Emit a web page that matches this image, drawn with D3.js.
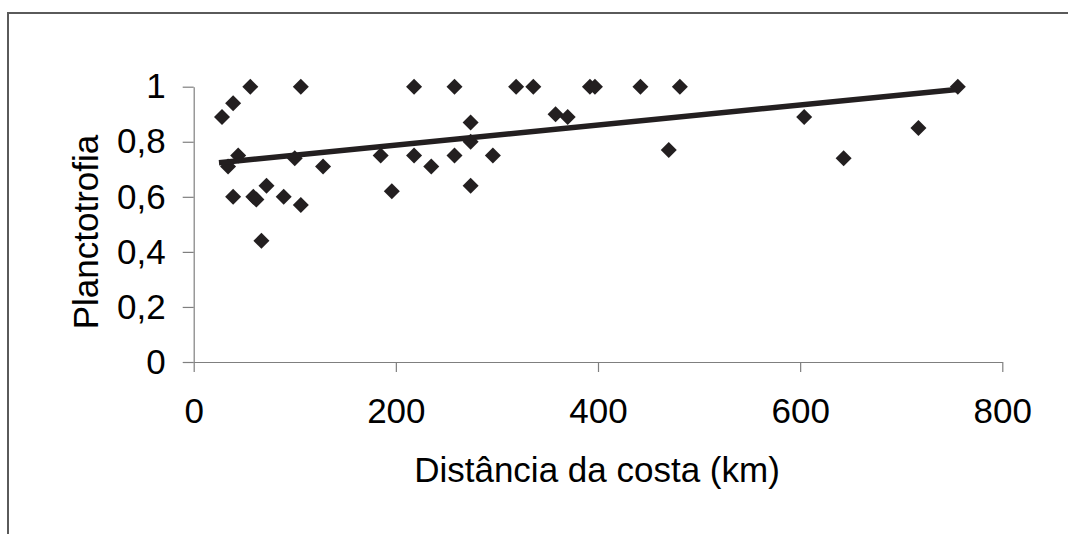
<!DOCTYPE html>
<html>
<head>
<meta charset="utf-8">
<script src="https://cdn.jsdelivr.net/npm/d3@7"></script>
<style>
  body { margin: 0; background: #fff; }
  text { font-family: "Liberation Sans", Arial, sans-serif; fill: #000; }
</style>
</head>
<body>
<div id="chart"></div>
<script>
// distância da costa (km) e planctotrofia
const distancia = [28, 34, 39, 39, 44, 56, 59, 62, 67, 72, 89, 100, 106, 106, 128, 185, 196, 218, 218, 235,
  258, 258, 274, 274, 274, 296, 319, 336, 358, 370, 392, 397, 442, 470, 481, 604, 643, 717, 756];
const planctotrofia = [0.89, 0.71, 0.94, 0.60, 0.75, 1, 0.60, 0.59, 0.44, 0.64, 0.60, 0.74, 1, 0.57, 0.71, 0.75, 0.62, 1, 0.75, 0.71,
  1, 0.75, 0.87, 0.80, 0.64, 0.75, 1, 1, 0.90, 0.89, 1, 1, 1, 0.77, 1, 0.89, 0.74, 0.85, 1];
// linha de tendência
const tendX = [25, 755];
const tendY = [0.724, 0.99];
const xTicks = [0, 200, 400, 600, 800];
const yTicks = [0, 0.2, 0.4, 0.6, 0.8, 1];

const width = 1068, height = 534;
const fontSize = '35px';
const svg = d3.select('#chart').append('svg')
  .attr('width', width).attr('height', height);

// moldura
svg.append('rect')
  .attr('x', 8).attr('y', 13)
  .attr('width', 1200).attr('height', 600)
  .attr('fill', 'none').attr('stroke', '#5a5a5a').attr('stroke-width', 2);

const x = d3.scaleLinear().domain([0, 800]).range([193.7, 1002.3]);
const y = d3.scaleLinear().domain([0, 1]).range([362, 86.7]);

const fmt = d => String(d).replace('.', ',');

const xAxis = svg.append('g')
  .attr('transform', `translate(0,${y(0)})`)
  .call(d3.axisBottom(x).tickValues(xTicks).tickSize(10).tickSizeOuter(0).tickPadding(26).tickFormat(fmt));
const yAxis = svg.append('g')
  .attr('transform', `translate(${x(0)},0)`)
  .call(d3.axisLeft(y).tickValues(yTicks).tickSize(11).tickSizeOuter(0).tickPadding(17).tickFormat(fmt));

[xAxis, yAxis].forEach(g => {
  g.selectAll('path, line').attr('stroke', '#7f7f7f').attr('stroke-width', 1.2);
  g.selectAll('text').style('font-size', fontSize).attr('fill', '#000');
});

// pontos
const diamond = d3.symbol().type(d3.symbolSquare).size(128);
svg.append('g').selectAll('path')
  .data(distancia.map((d, i) => [d, planctotrofia[i]]))
  .join('path')
  .attr('d', diamond)
  .attr('transform', d => `translate(${x(d[0])},${y(d[1])}) rotate(45)`)
  .attr('fill', '#231f20');

// tendência
svg.append('path')
  .datum(tendX.map((d, i) => [d, tendY[i]]))
  .attr('d', d3.line().x(d => x(d[0])).y(d => y(d[1])))
  .attr('fill', 'none')
  .attr('stroke', '#231f20')
  .attr('stroke-width', 5.5);

// títulos
svg.append('text')
  .attr('x', 597).attr('y', 482)
  .attr('text-anchor', 'middle')
  .style('font-size', fontSize)
  .text('Distância da costa (km)');
svg.append('text')
  .attr('transform', `translate(98,232) rotate(-90)`)
  .attr('text-anchor', 'middle')
  .style('font-size', fontSize)
  .text('Planctotrofia');
</script>
</body>
</html>
